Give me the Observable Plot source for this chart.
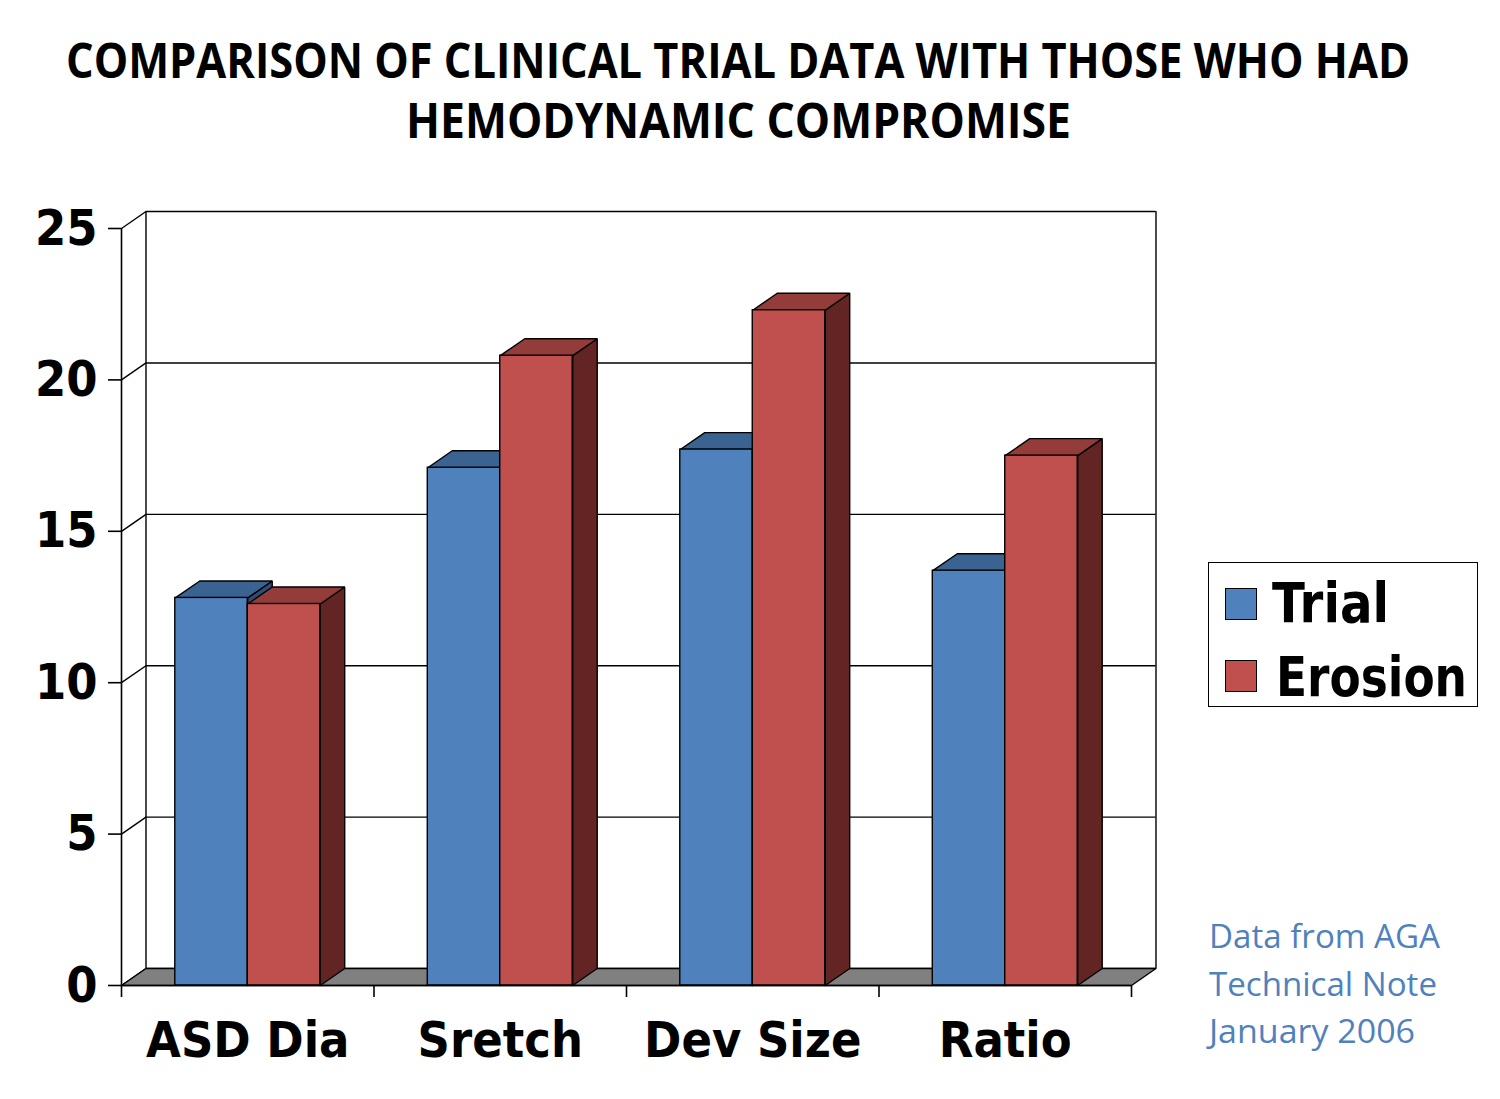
<!DOCTYPE html>
<html>
<head>
<meta charset="utf-8">
<script src="https://cdn.jsdelivr.net/npm/d3@7"></script>
<script src="https://cdn.jsdelivr.net/npm/@observablehq/plot@0.6"></script>
<style>
  html, body { margin: 0; padding: 0; background: #fff; }
  #wrap { position: relative; width: 1500px; height: 1099px; overflow: hidden; }
  .abs { position: absolute; white-space: nowrap; transform-origin: 0 50%; }
  .title { font-family: "Open Sans", sans-serif; font-weight: bold; font-size: 48px; line-height: 48px; color: #000; }
  .leg { font-family: "DejaVu Sans", sans-serif; font-weight: bold; font-size: 55px; line-height: 55px; color: #000; }
  .note { font-family: "Open Sans", sans-serif; font-size: 32px; line-height: 32px; color: #4f81bd; }
  #titlebox { height: 160px; }
</style>
</head>
<body>
<div id="wrap">
  <div id="titlebox"></div>
  <div id="chart"></div>
</div>
<script>
// ---- data ----
const categories = ["ASD Dia", "Sretch", "Dev Size", "Ratio"];
const seriesNames = ["Trial", "Erosion"];
const trial = [12.8, 17.1, 17.7, 13.7];
const erosion = [12.6, 20.8, 22.3, 17.5];
const yTicks = [0, 5, 10, 15, 20, 25];
const titleLines = ["COMPARISON OF CLINICAL TRIAL DATA WITH THOSE WHO HAD", "HEMODYNAMIC COMPROMISE"];
const noteLines = ["Data from AGA", "Technical Note", "January 2006"];

// ---- style constants ----
const colors = {
  Trial:   {front: "#4f81bd", top: "#3b6391", side: "#2c4d75"},
  Erosion: {front: "#c0504d", top: "#943c39", side: "#632523"}
};
const BAR_W = 0.287;   // bar width in band units
const DX = 0.097;      // depth offset along x (units)
const DY = 0.56;       // depth offset along y (units)
const yMax = 25;

// ---- build shapes from data ----
function bars(values, name, offset) {
  return values.map((v, i) => ({
    cat: categories[i], series: name, v,
    x1: i + offset, x2: i + offset + BAR_W
  }));
}
const trialBars = bars(trial, "Trial", -BAR_W);
const erosionBars = bars(erosion, "Erosion", 0);

function topPoly(b) {
  const id = b.series + b.cat + "top";
  return [[b.x1, b.v], [b.x2, b.v], [b.x2 + DX, b.v + DY], [b.x1 + DX, b.v + DY], [b.x1, b.v]]
    .map(([x, y]) => ({id, x, y}));
}
function sidePoly(b) {
  const id = b.series + b.cat + "side";
  return [[b.x2, 0], [b.x2, b.v], [b.x2 + DX, b.v + DY], [b.x2 + DX, DY], [b.x2, 0]]
    .map(([x, y]) => ({id, x, y}));
}
const xMin = -0.5, xMax = categories.length - 0.5;
const floor = [[xMin, 0], [xMax, 0], [xMax + DX, DY], [xMin + DX, DY], [xMin, 0]].map(([x, y]) => ({id: "floor", x, y}));
const boundaries = d3.range(categories.length + 1).map(i => i - 0.5);

const faceOpts = {stroke: "#000", strokeWidth: 1.4, strokeLinejoin: "miter"};

function faces(list, name) {
  const c = colors[name];
  return [
    Plot.line(list.flatMap(sidePoly), {x: "x", y: "y", z: "id", fill: c.side, ...faceOpts}),
    Plot.line(list.flatMap(topPoly), {x: "x", y: "y", z: "id", fill: c.top, ...faceOpts}),
    Plot.rect(list, {x1: "x1", x2: "x2", y1: 0, y2: "v", fill: c.front, ...faceOpts})
  ];
}

const chart = Plot.plot({
  width: 1500,
  height: 939,
  marginLeft: 121,
  marginRight: 369,
  marginTop: 68,
  marginBottom: 114,
  x: {type: "linear", domain: [xMin, xMax], axis: null},
  y: {domain: [0, yMax], axis: null},
  style: {background: "#fff", fontFamily: "DejaVu Sans"},
  marks: [
    // back wall
    Plot.ruleY(yTicks, {y: d => d + DY, x1: xMin + DX, x2: xMax + DX, stroke: "#000", strokeWidth: 1.4}),
    Plot.ruleX([xMin + DX, xMax + DX], {y1: DY, y2: yMax + DY, stroke: "#000", strokeWidth: 1.4}),
    // left wall diagonals
    Plot.link(yTicks, {x1: xMin, y1: d => d, x2: xMin + DX, y2: d => d + DY, stroke: "#000", strokeWidth: 1.4}),
    // floor
    Plot.line(floor, {x: "x", y: "y", z: "id", fill: "#808080", stroke: "#000", strokeWidth: 1.4}),
    // bars
    ...faces(trialBars, "Trial"),
    ...faces(erosionBars, "Erosion"),
    // front axes
    Plot.ruleX([xMin], {y1: 0, y2: yMax, stroke: "#000", strokeWidth: 1.6}),
    Plot.ruleY([0], {x1: xMin, x2: xMax, stroke: "#000", strokeWidth: 1.6}),
    Plot.axisY({ticks: yTicks, tickSize: 13, tickPadding: 11, fontSize: 50, fontWeight: "bold", strokeWidth: 1.6, label: null}),
    Plot.axisX({ticks: boundaries, tickSize: 12, tickFormat: () => "", strokeWidth: 1.6, label: null}),
    Plot.text(categories, {x: (d, i) => i, frameAnchor: "bottom", dy: 71, text: d => d, fontSize: 50, fontWeight: "bold", fill: "#000"})
  ]
});
document.getElementById("chart").appendChild(chart);

// condense bold SVG texts a little
chart.querySelectorAll("text").forEach(t => {
  t.style.fontWeight = "bold";
  const w = t.getComputedTextLength();
  if (w > 0) {
    t.setAttribute("textLength", (w * 0.9).toFixed(1));
    t.setAttribute("lengthAdjust", "spacingAndGlyphs");
  }
});

// ---- HTML overlays ----
const wrap = document.getElementById("wrap");
function addText(cls, txt, left, top, targetW) {
  const el = document.createElement("div");
  el.className = "abs " + cls;
  el.textContent = txt;
  el.style.left = left + "px";
  el.style.top = top + "px";
  wrap.appendChild(el);
  if (targetW) {
    const w = el.getBoundingClientRect().width;
    el.style.transform = `scaleX(${targetW / w})`;
  }
  return el;
}
addText("title", titleLines[0], 66, 36, 1344);
addText("title", titleLines[1], 406, 96, 665);

// legend
const box = document.createElement("div");
box.style.cssText = "position:absolute;left:1208px;top:562px;width:268px;height:143px;border:1.5px solid #000;background:#fff;";
wrap.appendChild(box);
seriesNames.forEach((name, i) => {
  const sw = document.createElement("div");
  sw.style.cssText = `position:absolute;left:1225px;top:${588 + i * 72}px;width:30px;height:30px;border:1.5px solid #000;background:${colors[name].front};`;
  wrap.appendChild(sw);
});
addText("leg", seriesNames[0], 1272, 576, 117);
addText("leg", seriesNames[1], 1276, 650, 191);

// note
const noteW = [231, 228, 206];
noteLines.forEach((l, i) => addText("note", l, 1209, 920 + i * 47.5, noteW[i]));
</script>
</body>
</html>
